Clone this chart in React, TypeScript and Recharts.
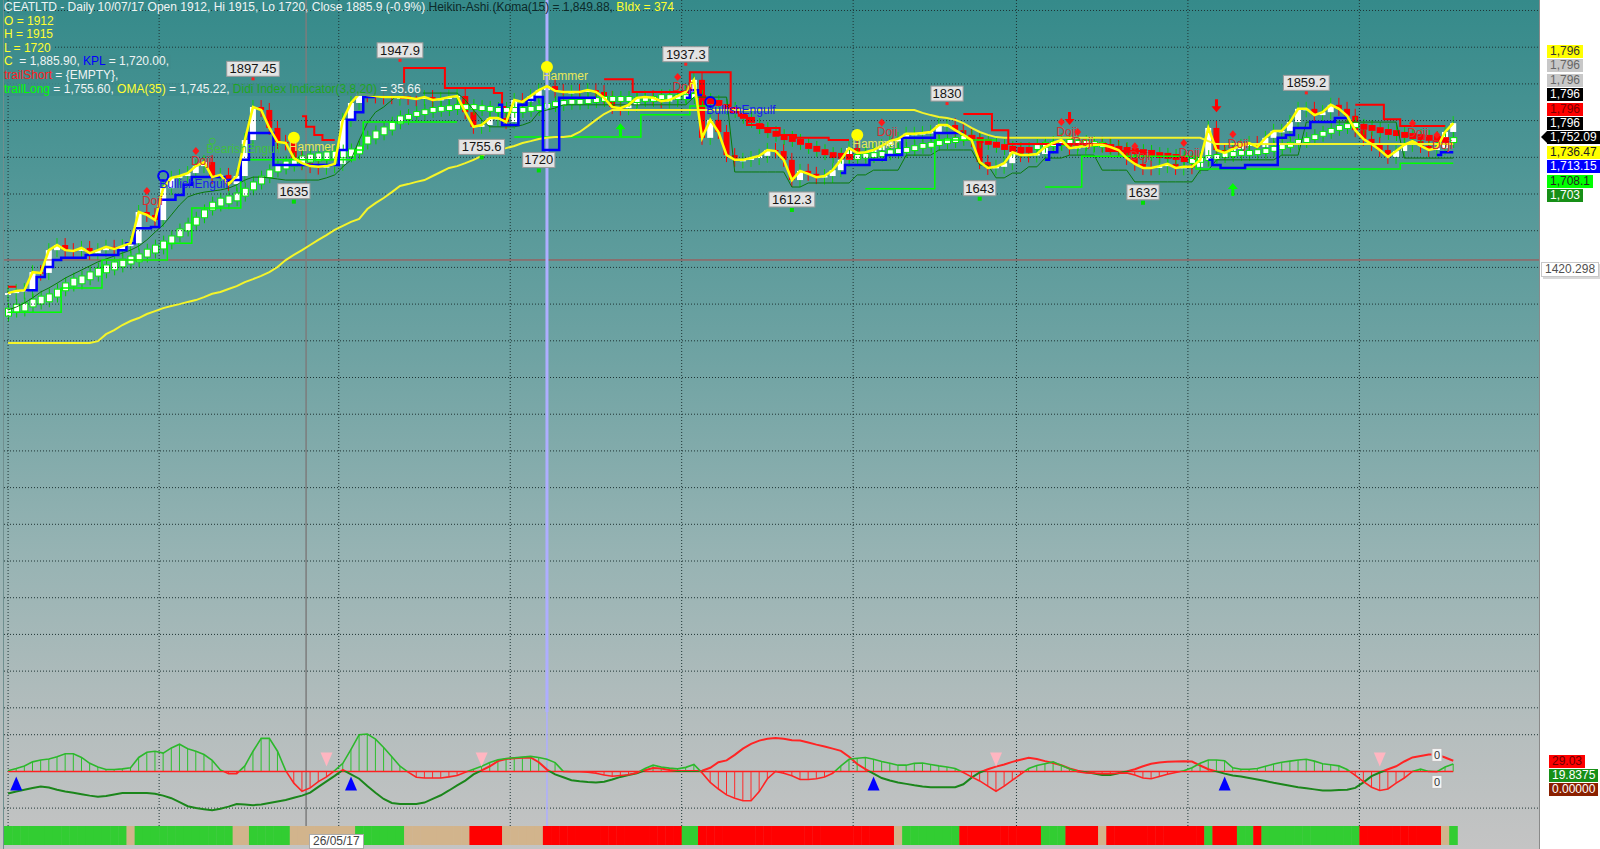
import React from 'react';
import { ComposedChart, BarChart, Bar, Line, XAxis, YAxis, ReferenceLine, ReferenceDot } from 'recharts';

// CEATLTD daily, Heikin-Ashi + Koma + trailing stops, Didi index below

const CLOSE = [
  1330, 1336, 1338, 1387, 1385, 1447, 1461, 1447, 1445, 1453,
  1439, 1447, 1456, 1450, 1458, 1466, 1551, 1543, 1529, 1616,
  1644, 1649, 1657, 1676, 1687, 1646, 1652, 1627, 1649, 1747,
  1837, 1829, 1780, 1742, 1739, 1698, 1684, 1676, 1674, 1676,
  1682, 1802, 1848, 1873, 1870, 1867, 1864, 1864, 1864, 1862,
  1859, 1864, 1856, 1859, 1864, 1867, 1823, 1783, 1788, 1807,
  1807, 1796, 1856, 1851, 1867, 1883, 1894, 1881, 1878, 1878,
  1878, 1883, 1878, 1862, 1837, 1834, 1843, 1862, 1864, 1862,
  1853, 1856, 1867, 1878, 1911, 1753, 1802, 1769, 1706, 1693,
  1693, 1698, 1704, 1720, 1717, 1693, 1638, 1663, 1655, 1646,
  1649, 1665, 1693, 1725, 1712, 1714, 1720, 1731, 1744, 1750,
  1764, 1764, 1766, 1769, 1788, 1788, 1774, 1761, 1747, 1687,
  1671, 1674, 1684, 1714, 1706, 1706, 1709, 1728, 1739, 1747,
  1725, 1728, 1731, 1734, 1734, 1728, 1720, 1698, 1682, 1671,
  1671, 1676, 1682, 1671, 1674, 1674, 1693, 1780, 1720, 1712,
  1723, 1731, 1739, 1728, 1753, 1772, 1772, 1796, 1832, 1832,
  1815, 1823, 1843, 1832, 1813, 1774, 1750, 1736, 1720, 1701,
  1717, 1734, 1744, 1731, 1720, 1725, 1769, 1793,
];

const HA_OPEN = [
  1325, 1330, 1336, 1338, 1387, 1385, 1447, 1461, 1447, 1445,
  1453, 1439, 1447, 1456, 1450, 1458, 1466, 1551, 1543, 1529,
  1616, 1644, 1649, 1657, 1676, 1687, 1646, 1652, 1627, 1649,
  1747, 1837, 1829, 1780, 1742, 1739, 1698, 1684, 1676, 1674,
  1676, 1682, 1802, 1848, 1873, 1870, 1867, 1868, 1860, 1866,
  1862, 1859, 1864, 1856, 1859, 1864, 1867, 1823, 1783, 1788,
  1804, 1807, 1796, 1856, 1851, 1867, 1883, 1894, 1881, 1875,
  1881, 1878, 1883, 1878, 1862, 1837, 1834, 1843, 1862, 1864,
  1862, 1853, 1856, 1867, 1878, 1911, 1753, 1802, 1769, 1706,
  1690, 1693, 1698, 1704, 1720, 1717, 1693, 1638, 1663, 1655,
  1646, 1649, 1665, 1693, 1725, 1712, 1714, 1720, 1731, 1744,
  1750, 1761, 1764, 1766, 1769, 1785, 1788, 1774, 1761, 1747,
  1687, 1671, 1674, 1684, 1714, 1709, 1706, 1709, 1728, 1739,
  1747, 1725, 1728, 1731, 1737, 1734, 1728, 1720, 1698, 1682,
  1674, 1671, 1676, 1682, 1671, 1677, 1674, 1693, 1780, 1720,
  1712, 1723, 1731, 1739, 1728, 1753, 1769, 1772, 1796, 1829,
  1832, 1815, 1823, 1843, 1832, 1813, 1774, 1750, 1736, 1720,
  1701, 1717, 1734, 1744, 1731, 1720, 1725, 1769,
];

const KOMA_OPEN = [
  1266, 1277, 1280, 1291, 1299, 1305, 1318, 1335, 1348, 1354,
  1365, 1375, 1384, 1392, 1400, 1408, 1414, 1427, 1438, 1449,
  1463, 1482, 1498, 1514, 1534, 1555, 1566, 1572, 1580, 1593,
  1610, 1626, 1643, 1659, 1667, 1675, 1681, 1686, 1689, 1692,
  1694, 1697, 1700, 1708, 1735, 1749, 1760, 1773, 1790, 1802,
  1810, 1815, 1821, 1824, 1826, 1829, 1829, 1829, 1826, 1824,
  1821, 1821, 1821, 1821, 1824, 1826, 1832, 1837, 1840, 1843,
  1843, 1845, 1848, 1851, 1851, 1851, 1851, 1848, 1851, 1851,
  1856, 1856, 1856, 1856, 1859, 1870, 1861, 1856, 1845, 1837,
  1821, 1810, 1793, 1782, 1772, 1763, 1758, 1750, 1739, 1731,
  1722, 1714, 1712, 1709, 1693, 1696, 1698, 1701, 1706, 1709,
  1712, 1717, 1723, 1726, 1731, 1736, 1739, 1745, 1761, 1755,
  1750, 1742, 1736, 1731, 1728, 1728, 1720, 1726, 1728, 1731,
  1734, 1731, 1731, 1728, 1726, 1736, 1731, 1728, 1725, 1722,
  1720, 1714, 1712, 1709, 1703, 1682, 1685, 1690, 1693, 1698,
  1701, 1704, 1704, 1706, 1709, 1715, 1720, 1726, 1734, 1739,
  1747, 1756, 1764, 1772, 1777, 1780, 1791, 1788, 1782, 1777,
  1774, 1769, 1766, 1763, 1761, 1758, 1755, 1739,
];

const KOMA_CLOSE = [
  1290, 1301, 1304, 1315, 1323, 1329, 1342, 1359, 1372, 1378,
  1389, 1399, 1408, 1416, 1424, 1432, 1438, 1451, 1462, 1473,
  1487, 1506, 1522, 1538, 1558, 1579, 1590, 1596, 1604, 1617,
  1634, 1650, 1667, 1683, 1691, 1699, 1705, 1710, 1713, 1716,
  1718, 1721, 1724, 1732, 1759, 1773, 1784, 1797, 1814, 1818,
  1826, 1831, 1837, 1840, 1842, 1845, 1845, 1845, 1842, 1840,
  1837, 1837, 1837, 1837, 1840, 1842, 1848, 1853, 1856, 1859,
  1859, 1861, 1864, 1867, 1867, 1867, 1867, 1864, 1867, 1867,
  1872, 1872, 1872, 1872, 1875, 1854, 1845, 1840, 1829, 1821,
  1805, 1794, 1777, 1766, 1756, 1747, 1742, 1734, 1723, 1715,
  1706, 1698, 1696, 1693, 1709, 1712, 1714, 1717, 1722, 1725,
  1728, 1733, 1739, 1742, 1747, 1752, 1755, 1761, 1745, 1739,
  1734, 1726, 1720, 1715, 1712, 1712, 1736, 1742, 1744, 1747,
  1750, 1747, 1747, 1744, 1742, 1720, 1715, 1712, 1709, 1706,
  1704, 1698, 1696, 1693, 1687, 1698, 1701, 1706, 1709, 1714,
  1717, 1720, 1720, 1722, 1725, 1731, 1736, 1742, 1750, 1755,
  1763, 1772, 1780, 1788, 1793, 1796, 1775, 1772, 1766, 1761,
  1758, 1753, 1750, 1747, 1745, 1742, 1739, 1755,
];

const OMA35 = [
  1194, 1194, 1194, 1194, 1194, 1194, 1194, 1194, 1194, 1194,
  1194, 1199, 1218, 1229, 1243, 1254, 1262, 1273, 1281, 1289,
  1295, 1300, 1306, 1311, 1319, 1328, 1333, 1341, 1349, 1360,
  1368, 1377, 1387, 1401, 1420, 1434, 1447, 1461, 1475, 1488,
  1502, 1513, 1524, 1532, 1559, 1575, 1589, 1605, 1622, 1627,
  1633, 1638, 1649, 1660, 1671, 1676, 1684, 1693, 1704, 1717,
  1720, 1725, 1731, 1739, 1744, 1750, 1753, 1755, 1755, 1758,
  1769, 1785, 1802, 1818, 1829, 1829, 1829, 1829, 1829, 1829,
  1829, 1829, 1829, 1829, 1829, 1829, 1829, 1829, 1829, 1829,
  1829, 1829, 1829, 1829, 1829, 1829, 1829, 1829, 1829, 1829,
  1829, 1829, 1829, 1829, 1829, 1829, 1829, 1829, 1829, 1829,
  1829, 1829, 1821, 1815, 1810, 1807, 1802, 1793, 1780, 1769,
  1761, 1755, 1753, 1753, 1753, 1753, 1753, 1753, 1753, 1753,
  1753, 1753, 1753, 1753, 1753, 1753, 1753, 1753, 1753, 1753,
  1753, 1753, 1753, 1753, 1753, 1753, 1753, 1744, 1736, 1736,
  1736, 1736, 1736, 1736, 1736, 1736, 1736, 1736, 1736, 1736,
  1736, 1736, 1736, 1736, 1736, 1736, 1736, 1736, 1736, 1736,
  1736, 1736, 1736, 1736, 1736, 1736, 1736, 1736,
];

const KPL = [
  null, null, 1338, 1338, 1374, 1401, 1420, 1426, 1426, 1426,
  1434, 1434, 1434, 1434, 1447, 1466, 1507, 1507, 1510, 1584,
  1584, 1597, 1625, 1646, 1646, 1646, 1646, 1638, 1638, 1693,
  1766, 1766, 1766, 1679, 1679, 1679, 1679, 1679, 1679, 1679,
  1679, 1720, 1802, 1823, 1864, 1864, null, null, null, null,
  null, null, null, null, null, null, null, null, null, null,
  1843, 1788, 1788, 1843, 1856, 1864, 1720, 1720, 1862, 1862,
  1862, 1862, 1862, null, null, null, null, null, null, null,
  null, null, null, 1862, 1883, 1870, null, null, null, null,
  null, null, null, null, null, null, null, null, null, null,
  null, null, 1657, 1679, 1679, 1679, 1693, 1693, 1706, 1706,
  1753, 1753, 1753, 1753, 1766, 1766, 1766, 1766, null, null,
  null, null, null, null, null, null, null, 1693, 1714, 1734,
  null, null, null, null, null, null, null, null, null, null,
  null, null, null, null, null, null, null, 1693, 1679, 1671,
  1671, 1671, 1679, 1679, 1679, 1679, 1753, 1761, 1780, 1780,
  1796, 1796, 1796, 1807, 1807, null, null, null, null, null,
  null, null, null, null, null, 1706, 1714, 1714,
];

const TRAIL_SHORT = [
  1347, 1347, null, null, null, null, null, null, null, null,
  null, null, null, null, null, null, null, null, null, null,
  null, null, null, null, null, null, null, null, null, null,
  null, null, null, null, null, null, 1812, 1783, 1761, 1747,
  1747, null, null, null, null, null, null, null, 1862, 1943,
  1943, 1943, 1943, 1943, 1889, 1889, 1889, 1889, 1889, 1889,
  1875, 1837, null, null, null, null, null, null, null, null,
  null, null, null, 1913, 1913, 1913, 1913, 1878, 1878, 1878,
  1878, 1878, 1878, 1878, 1932, 1932, 1932, 1932, 1932, 1823,
  1813, 1788, 1788, 1780, 1780, 1761, 1761, 1753, 1753, 1753,
  1753, 1747, 1747, 1747, null, null, null, null, null, null,
  null, null, null, null, null, null, null, 1818, 1818, 1818,
  1818, 1774, 1774, 1736, 1736, 1736, 1736, 1736, 1736, 1736,
  1736, 1736, 1736, 1736, 1736, 1717, 1717, 1717, 1717, 1717,
  null, null, null, null, null, null, null, null, null, null,
  null, null, null, null, null, null, null, null, null, null,
  null, null, null, null, null, 1843, 1843, 1843, 1843, 1804,
  1804, 1785, 1785, 1785, 1785, 1785, 1785, null,
];

const TRAIL_LONG = [
  1278, 1278, 1278, 1278, 1278, 1278, 1278, 1344, 1344, 1344,
  1344, 1344, 1420, 1420, 1420, 1420, 1420, 1420, 1420, 1420,
  1466, 1466, 1466, 1562, 1562, 1562, 1562, 1562, 1562, 1693,
  1693, 1693, 1693, 1693, 1693, 1693, 1693, 1693, 1693, 1693,
  1693, 1693, 1693, 1720, 1796, 1796, 1796, 1796, 1796, 1796,
  1796, 1796, 1796, 1796, 1796, 1796, null, null, null, null,
  null, null, 1755, 1755, 1755, 1755, 1755, 1755, 1755, 1755,
  1755, 1755, 1755, 1755, 1755, 1755, 1755, 1755, 1816, 1816,
  1816, 1816, 1816, 1816, 1840, 1840, 1840, null, null, null,
  null, null, null, null, null, null, null, null, null, null,
  null, null, null, null, null, 1614, 1614, 1614, 1614, 1614,
  1614, 1614, 1614, 1614, 1747, 1747, 1747, 1747, 1747, 1747,
  1747, 1747, null, null, null, null, null, 1619, 1619, 1619,
  1619, 1619, 1703, 1703, 1703, 1703, 1703, 1703, 1703, 1703,
  1703, 1703, 1703, 1703, 1703, 1703, 1668, 1668, 1668, 1668,
  1668, 1668, 1668, 1668, 1668, 1668, 1668, 1668, 1668, 1668,
  1668, 1668, 1668, 1668, 1668, 1668, 1668, 1668, 1668, 1668,
  1668, 1684, 1684, 1684, 1684, 1684, 1684, 1684,
];

const LOWER_TRAIL = [
  1284, 1292, 1303, 1317, 1333, 1344, 1357, 1371, 1382, 1393,
  1404, 1415, 1423, 1431, 1439, 1447, 1458, 1475, 1496, 1516,
  1543, 1570, 1592, 1600, 1605, 1608, 1611, 1616, 1625, 1638,
  1646, 1646, 1644, 1641, 1638, 1638, 1638, 1638, 1638, 1644,
  1652, 1674, 1693, 1747, 1793, 1823, 1837, 1856, 1875, 1875,
  1875, 1875, 1875, 1875, 1875, 1875, 1856, 1829, 1802, 1783,
  1783, 1783, 1783, 1788, 1796, 1823, 1829, 1834, 1843, 1843,
  1843, 1843, 1843, 1843, 1843, 1843, 1843, 1843, 1843, 1843,
  1843, 1843, 1843, 1843, 1864, 1864, 1864, 1864, 1864, 1660,
  1660, 1660, 1660, 1660, 1660, 1660, 1619, 1619, 1630, 1630,
  1630, 1630, 1630, 1630, 1652, 1652, 1665, 1665, 1665, 1665,
  1706, 1706, 1706, 1706, 1720, 1720, 1720, 1720, 1720, 1679,
  1679, 1644, 1644, 1657, 1657, 1674, 1674, 1698, 1698, 1698,
  1706, 1706, 1706, 1706, 1665, 1665, 1665, 1665, 1633, 1633,
  1633, 1633, 1633, 1633, 1633, 1633, 1665, 1665, 1693, 1693,
  1693, 1693, 1693, 1693, 1693, 1693, 1706, 1706, 1706, 1796,
  1796, 1796, 1796, 1796, 1796, 1796, 1796, 1796, 1796, 1796,
  1796, 1698, 1698, 1698, 1698, 1698, 1698, 1698,
];

const DIDI_FAST = [
  2, 8, 15, 26, 31, 34, 40, 48, 48, 38,
  22, 12, 5, 5, 7, 10, 38, 52, 55, 50,
  64, 74, 62, 55, 46, 30, 4, -6, -6, 15,
  55, 90, 90, 55, 2, -32, -54, -45, -28, -15,
  2, 22, 60, 100, 102, 88, 65, 40, 14, -2,
  -16, -18, -18, -18, -15, -11, -2, 6, 14, 24,
  32, 35, 37, 39, 41, 38, 33, 24, 0, -1,
  -1, -2, -5, -10, -13, -11, -9, -4, 8, 17,
  12, 9, 7, 11, 19, -4, -30, -48, -64, -73,
  -80, -80, -55, -20, 0, -5, -12, -22, -22, -20,
  -15, -5, 15, 33, 36, 38, 33, 27, 22, 17,
  17, 22, 23, 19, 15, 12, 8, -3, -15, -26,
  -40, -54, -40, -24, -8, 8, 16, 21, 26, 16,
  7, -1, -4, -5, -6, -6, -5, -4, -10, -18,
  -20, -14, -8, -3, 2, 10, 22, 31, 31, 29,
  10, 6, 6, 8, 14, 20, 25, 28, 31, 33,
  28, 21, 18, 15, 5, -11, -28, -43, -52, -48,
  -32, -18, 0, 6, 0, -1, 12, 20,
];

const DIDI_SLOW = [
  -60, -55, -50, -45, -41, -44, -50, -55, -58, -62,
  -66, -69, -67, -63, -59, -59, -59, -59, -61, -66,
  -73, -84, -95, -100, -103, -106, -102, -96, -89, -90,
  -92, -90, -86, -82, -78, -72, -66, -58, -42, -27,
  -12, 4, -8, -20, -40, -58, -75, -86, -89, -89,
  -89, -85, -75, -65, -52, -38, -25, -8, 3, 14,
  28, 34, 36, 37, 38, 25, 5, -8, -16, -24,
  -27, -29, -30, -28, -22, -15, -10, -5, 3, 9,
  8, 4, 1, 1, 1, 2, 10, 25, 30, 45,
  62, 75, 84, 89, 91, 89, 85, 84, 79, 73,
  68, 62, 56, 40, 20, 6, -6, -18, -25, -30,
  -34, -38, -41, -43, -43, -43, -43, -35, -17, -3,
  6, 13, 19, 26, 32, 37, 34, 28, 23, 17,
  8, 2, -2, -6, -10, -10, -5, 0, 6, 14,
  21, 24, 26, 27, 28, 27, 16, 6, 0, -6,
  -11, -14, -18, -22, -26, -31, -35, -39, -43, -46,
  -49, -52, -52, -51, -50, -45, -30, -13, -3, 6,
  14, 27, 38, 42, 46, 46, 38, 29,
];

// trend ribbon: g = up, t = neutral, r = down
const RIBBON = (
  'ggggggggggggggg' + 't' + 'gggggggggggg' + 'tt' + 'ggggg' + 'tttttttt' +
  'gggggg' + 'tttttttt' + 'rrrr' + 'ttttt' + 'rrrrrrrrrrrrrrrrr' + 'gg' +
  'rrrrrrrrrrrrrrrrrrrrrrrr' + 't' + 'ggggggg' + 'rrrrrrrrrr' + 'ggg' + 'rrrr' +
  't' + 'rrrrrrrrrrrr' + 'g' + 'rrr' + 'gg' + 'r' + 'gggggggggggg' + 'rrrrrrrrrr' + 't' + 'g'
).split('');

const PRICE_GRID = [2100, 2000, 1900, 1800, 1700, 1600, 1500, 1400, 1300, 1200, 1100, 1000, 900, 800, 700, 600, 500, 400, 300, 200];
const MONTH_STARTS = [19, 41, 62, 83, 104, 124, 145, 166];
const LEVEL = 1420.298;
const CURSOR_BAR = 37;
const SELECTED_BAR = 66;

const PEAKS = [
  { i: 30, v: 1897.45, hi: true }, { i: 48, v: 1947.9, hi: true }, { i: 83, v: 1937.3, hi: true },
  { i: 115, v: 1830, hi: true }, { i: 159, v: 1859.2, hi: true },
  { i: 35, v: 1635, hi: false }, { i: 58, v: 1755.6, hi: false }, { i: 65, v: 1720, hi: false },
  { i: 96, v: 1612.3, hi: false }, { i: 119, v: 1643, hi: false }, { i: 139, v: 1632, hi: false },
];

const PATTERNS = [
  { i: 17, v: 1608, kind: 'Doji' }, { i: 23, v: 1717, kind: 'Doji' },
  { i: 19, v: 1649, kind: 'BullishEngulf' }, { i: 25, v: 1744, kind: 'BearishEngulf' },
  { i: 35, v: 1753, kind: 'Hammer' }, { i: 66, v: 1946, kind: 'Hammer' },
  { i: 82, v: 1919, kind: 'Doji' }, { i: 86, v: 1851, kind: 'BullishEngulf' },
  { i: 104, v: 1761, kind: 'Hammer' }, { i: 107, v: 1795, kind: 'Doji' },
  { i: 129, v: 1796, kind: 'Doji' }, { i: 131, v: 1769, kind: 'Doji' },
  { i: 138, v: 1730, kind: 'Doji' }, { i: 144, v: 1739, kind: 'Doji' },
  { i: 150, v: 1763, kind: 'Doji' }, { i: 172, v: 1793, kind: 'Doji' },
  { i: 175, v: 1761, kind: 'Doji' },
];

const SELL_ARROWS = [{ i: 130, v: 1788 }, { i: 148, v: 1823 }];
const BUY_ARROWS = [{ i: 75, v: 1793 }, { i: 150, v: 1630 }];
const DIDI_BUY = [1, 42, 106, 149];
const DIDI_SELL = [39, 58, 121, 168];

const AXIS_VALUES = ['1,796', '1,796', '1,796', '1,796', '1,796', '1,796', '1,752.09', '1,736.47', '1,713.15', '1,708.1', '1,703'];
const AXIS_COLORS = [
  ['#ffff00', '#333'], ['#c8c8c8', '#666'], ['#c8c8c8', '#666'], ['#000', '#fff'], ['#ff0000', '#7a0000'],
  ['#000', '#fff'], ['#000', '#fff'], ['#ffff00', '#222'], ['#0000ff', '#fff'], ['#00ff00', '#222'], ['#178f17', '#fff'],
];
const DIDI_VALUES = ['29.03', '19.8375', '0.00000'];
const DIDI_COLORS = [['#ff0000', '#6a0000'], ['#178f17', '#fff'], ['#8a2000', '#fff']];

const SLOTS = 188;
const rows = Array.from({ length: SLOTS }, (_, i) => ({
  i,
  close: CLOSE[i] ?? null,
  haOpen: HA_OPEN[i] ?? null,
  kOpen: KOMA_OPEN[i] ?? null,
  kClose: KOMA_CLOSE[i] ?? null,
  oma: OMA35[i] ?? null,
  kpl: KPL[i] ?? null,
  tShort: TRAIL_SHORT[i] ?? null,
  tLong: TRAIL_LONG[i] ?? null,
  lower: LOWER_TRAIL[i] ?? null,
  fast: DIDI_FAST[i] ?? null,
  slow: DIDI_SLOW[i] ?? null,
  rib: RIBBON[i] ?? null,
}));

const FONT = '"Liberation Sans", Arial, sans-serif';
const PLOT_RIGHT = 1539;
const PRICE_H = 712;
const PRICE_MIN = 188.6, PRICE_MAX = 2128.6;
const OSC_TOP = 712, OSC_H = 114;
const OSC_MIN = -148.8, OSC_MAX = 161.9;
const RIB_TOP = 826, RIB_H = 19;
const MARGIN = { top: 0, right: 0, bottom: 0, left: 4 };
const GRID = '#1f3434';

const HaCandle = (p: any) => {
  const { x, y, width, height, payload } = p;
  if (x == null || payload.close == null) return null;
  const up = payload.close >= payload.haOpen;
  const top = height < 0 ? y + height : y;
  const h = Math.max(Math.abs(height), 1.5);
  const cx = x + width / 2;
  return (
    <g>
      <line x1={cx} x2={cx} y1={top - 7} y2={top + h + 7} stroke={up ? '#10d010' : '#ff0000'} strokeWidth={1} />
      <rect x={x} y={top} width={width} height={h} fill={up ? '#ffffff' : '#ff0000'} />
    </g>
  );
};

const KomaCandle = (p: any) => {
  const { x, y, width, height, payload } = p;
  if (x == null || payload.kClose == null) return null;
  const up = payload.kClose >= payload.kOpen;
  const top = height < 0 ? y + height : y;
  const h = Math.max(Math.abs(height), 4);
  const cx = x + width / 2;
  return (
    <g>
      <line x1={cx} x2={cx} y1={top - 5} y2={top} stroke="#00d000" strokeWidth={1} />
      <line x1={cx} x2={cx} y1={top + h} y2={top + h + 5} stroke="#00d000" strokeWidth={1} />
      {up
        ? <rect x={x + 0.5} y={top + 0.5} width={width - 1} height={h - 1} fill="#ffffff" stroke="#00ee00" strokeWidth={1} />
        : <rect x={x} y={top} width={width} height={h} fill="#ff0000" />}
    </g>
  );
};

const Hatch = (p: any) => {
  const { x, y, width, height, payload } = p;
  if (x == null || payload.fast == null) return null;
  const cx = x + width / 2;
  const top = height < 0 ? y + height : y;
  return <line x1={cx} x2={cx} y1={top} y2={top + Math.abs(height)} stroke={payload.fast >= 0 ? '#2ec02e' : '#ff2a2a'} strokeWidth={1} />;
};

const RibbonCell = (p: any) => {
  const { x, y, width, height, payload } = p;
  if (x == null || !payload.rib) return null;
  const fill = payload.rib === 'g' ? '#32cd32' : payload.rib === 'r' ? '#ff0000' : '#d2b48c';
  return <rect x={x} y={y} width={width + 0.6} height={height} fill={fill} />;
};

const PeakLabel = ({ cx, cy, v, hi }: any) => {
  const text = String(v);
  const w = text.length * 6.8 + 5;
  const bh = 15;
  const mid = hi ? cy - 16 : cy + 10;
  const top = mid - bh / 2;
  return (
    <g>
      <rect x={cx - w / 2} y={top} width={w} height={bh} fill="#e4e4e4" stroke="#9a9a9a" strokeWidth={1} />
      <text x={cx} y={mid + 4.5} textAnchor="middle" fontSize={13} fontFamily={FONT} fill="#151515">{text}</text>
      {hi
        ? <rect x={cx - 1.5} y={top + bh + 1} width={3} height={3} fill="#ff2020" />
        : <rect x={cx - 2} y={top + bh + 1} width={4} height={4} fill="#00e000" />}
    </g>
  );
};

const PatternMark = ({ cx, cy, kind }: any) => {
  const t = { fontSize: 12, fontFamily: FONT };
  if (kind === 'Doji') {
    return (
      <g>
        <path d={`M${cx},${cy - 4} L${cx + 3.5},${cy} L${cx},${cy + 4} L${cx - 3.5},${cy} Z`} fill="#ff1a1a" />
        <text x={cx - 5} y={cy + 14} fill="#d83030" {...t}>Doji</text>
      </g>
    );
  }
  if (kind === 'Hammer') {
    return (
      <g>
        <circle cx={cx} cy={cy} r={6} fill="#ffff00" />
        <text x={cx - 5} y={cy + 13} fill="#e8e858" {...t}>Hammer</text>
      </g>
    );
  }
  if (kind === 'BullishEngulf') {
    return (
      <g>
        <circle cx={cx} cy={cy} r={5} fill="none" stroke="#0000ff" strokeWidth={2} />
        <text x={cx - 4} y={cy + 12} fill="#1a1aee" {...t}>BullishEngulf</text>
      </g>
    );
  }
  return (
    <g>
      <circle cx={cx} cy={cy} r={3} fill="none" stroke="#40c040" strokeWidth={1} />
      <text x={cx - 6} y={cy + 12} fill="#40c040" {...t}>BearishEngulf</text>
    </g>
  );
};

const Arrow = ({ cx, cy, down, color }: any) => {
  const s = down ? -1 : 1;
  return (
    <path
      d={`M${cx},${cy} L${cx + 5},${cy + 6 * s} L${cx + 1.5},${cy + 6 * s} L${cx + 1.5},${cy + 13 * s} L${cx - 1.5},${cy + 13 * s} L${cx - 1.5},${cy + 6 * s} L${cx - 5},${cy + 6 * s} Z`}
      fill={color}
    />
  );
};

const Tri = ({ cx, cy, up }: any) => up
  ? <path d={`M${cx},${cy + 5} L${cx + 6},${cy + 19} L${cx - 6},${cy + 19} Z`} fill="#0000ff" />
  : <path d={`M${cx - 6},${cy - 19} L${cx + 6},${cy - 19} L${cx},${cy - 5} Z`} fill="#ffb6c1" />;

const ZeroTags = ({ cx, cy }: any) => (
  <g fontFamily={FONT} fontSize={11}>
    <rect x={cx - 5} y={cy - 23} width={10} height={13} fill="#f4f4f4" stroke="#bbb" />
    <text x={cx} y={cy - 12.5} textAnchor="middle" fill="#333">0</text>
    <rect x={cx - 5} y={cy + 4} width={10} height={13} fill="#f4f4f4" stroke="#bbb" />
    <text x={cx} y={cy + 14.5} textAnchor="middle" fill="#333">0</text>
  </g>
);

function PricePane() {
  return (
    <ComposedChart width={PLOT_RIGHT} height={PRICE_H} data={rows} margin={MARGIN}>
      <XAxis dataKey="i" hide />
      <XAxis dataKey="i" hide xAxisId="koma" />
      <YAxis hide domain={[PRICE_MIN, PRICE_MAX]} allowDataOverflow />
      {PRICE_GRID.map(v => <ReferenceLine key={v} y={v} stroke={GRID} strokeDasharray="1 2" />)}
      <ReferenceLine x={0} stroke={GRID} strokeDasharray="1 2" />
      {MONTH_STARTS.map(m => <ReferenceLine key={m} x={m} position="start" stroke={GRID} strokeDasharray="1 2" />)}
      <ReferenceLine y={LEVEL} stroke="#b04848" strokeWidth={1} />
      <ReferenceLine x={SELECTED_BAR} stroke="#aeaeff" strokeWidth={3} />
      <ReferenceLine x={CURSOR_BAR} position="start" stroke="#7c7c7c" strokeWidth={1.5} />
      <Line dataKey="lower" stroke="#0a7a0a" strokeWidth={1} dot={false} isAnimationActive={false} />
      <Line dataKey="tLong" type="step" stroke="#00ff00" strokeWidth={1.5} dot={false} isAnimationActive={false} />
      <Line dataKey="oma" stroke="#f4f42a" strokeWidth={2} dot={false} isAnimationActive={false} />
      <Bar dataKey={(d: any) => (d.close == null ? null : [Math.min(d.haOpen, d.close), Math.max(d.haOpen, d.close)])}
        barSize={6} shape={HaCandle} isAnimationActive={false} />
      <Bar xAxisId="koma" dataKey={(d: any) => (d.kClose == null ? null : [Math.min(d.kOpen, d.kClose), Math.max(d.kOpen, d.kClose)])}
        barSize={7} shape={KomaCandle} isAnimationActive={false} />
      <Line dataKey="tShort" type="step" stroke="#ff0000" strokeWidth={2} dot={false} isAnimationActive={false} />
      <Line dataKey="kpl" type="step" stroke="#0000ff" strokeWidth={2.5} dot={false} isAnimationActive={false} />
      <Line dataKey="close" stroke="#ffff00" strokeWidth={2.5} dot={false} isAnimationActive={false} />
      {PATTERNS.map((a, k) => (
        <ReferenceDot key={'p' + k} x={a.i} y={a.v} r={0} shape={(props: any) => <PatternMark {...props} kind={a.kind} />} />
      ))}
      {SELL_ARROWS.map((a, k) => (
        <ReferenceDot key={'s' + k} x={a.i} y={a.v} r={0} shape={(props: any) => <Arrow {...props} down color="#ff0000" />} />
      ))}
      {BUY_ARROWS.map((a, k) => (
        <ReferenceDot key={'b' + k} x={a.i} y={a.v} r={0} shape={(props: any) => <Arrow {...props} color="#00ff00" />} />
      ))}
      {PEAKS.map((a, k) => (
        <ReferenceDot key={'k' + k} x={a.i} y={a.v} r={0} shape={(props: any) => <PeakLabel {...props} v={a.v} hi={a.hi} />} />
      ))}
    </ComposedChart>
  );
}

const ZERO_FRAC = OSC_MAX / (OSC_MAX - OSC_MIN);

function DidiPane() {
  return (
    <ComposedChart width={PLOT_RIGHT} height={OSC_H} data={rows} margin={MARGIN}>
      <defs>
        <linearGradient id="fastGrad" gradientUnits="userSpaceOnUse" x1="0" y1="0" x2="0" y2={OSC_H}>
          <stop offset={0} stopColor="#2cb82c" />
          <stop offset={ZERO_FRAC} stopColor="#2cb82c" />
          <stop offset={ZERO_FRAC} stopColor="#ff2424" />
          <stop offset={1} stopColor="#ff2424" />
        </linearGradient>
        <linearGradient id="slowGrad" gradientUnits="userSpaceOnUse" x1="0" y1="0" x2="0" y2={OSC_H}>
          <stop offset={0} stopColor="#ff2424" />
          <stop offset={ZERO_FRAC} stopColor="#ff2424" />
          <stop offset={ZERO_FRAC} stopColor="#1b861b" />
          <stop offset={1} stopColor="#1b861b" />
        </linearGradient>
      </defs>
      <XAxis dataKey="i" hide />
      <YAxis hide domain={[OSC_MIN, OSC_MAX]} allowDataOverflow />
      <ReferenceLine y={100} stroke={GRID} strokeDasharray="1 2" />
      <ReferenceLine y={-100} stroke={GRID} strokeDasharray="1 2" />
      <ReferenceLine x={0} stroke={GRID} strokeDasharray="1 2" />
      {MONTH_STARTS.map(m => <ReferenceLine key={m} x={m} position="start" stroke={GRID} strokeDasharray="1 2" />)}
      <ReferenceLine x={SELECTED_BAR} stroke="#aeaeff" strokeWidth={1.5} />
      <ReferenceLine x={CURSOR_BAR} position="start" stroke="#7c7c7c" strokeWidth={1.5} />
      <Bar dataKey={(d: any) => (d.fast == null ? null : [Math.min(0, d.fast), Math.max(0, d.fast)])}
        barSize={2} shape={Hatch} isAnimationActive={false} />
      <Line dataKey={(d: any) => (d.fast == null ? null : 0)} stroke="#ff2020" strokeWidth={1.5} dot={false} isAnimationActive={false} />
      <Line dataKey="slow" stroke="url(#slowGrad)" strokeWidth={2} dot={false} isAnimationActive={false} />
      <Line dataKey="fast" stroke="url(#fastGrad)" strokeWidth={1.6} dot={false} isAnimationActive={false} />
      {DIDI_BUY.map(i => <ReferenceDot key={'u' + i} x={i} y={0} r={0} shape={(props: any) => <Tri {...props} up />} />)}
      {DIDI_SELL.map(i => <ReferenceDot key={'d' + i} x={i} y={0} r={0} shape={(props: any) => <Tri {...props} />} />)}
      <ReferenceDot x={175} y={0} r={0} shape={(props: any) => <ZeroTags {...props} />} />
    </ComposedChart>
  );
}

function RibbonPane() {
  return (
    <BarChart width={PLOT_RIGHT} height={RIB_H} data={rows} margin={MARGIN} barCategoryGap={0}>
      <XAxis dataKey="i" hide />
      <YAxis hide domain={[0, 1]} />
      <Bar dataKey={(d: any) => (d.rib ? 1 : null)} shape={RibbonCell} isAnimationActive={false} />
    </BarChart>
  );
}

const badge = (bg: string, color: string): React.CSSProperties => ({
  position: 'absolute', height: 13, lineHeight: '13px', padding: '0 3px', background: bg, color,
  fontSize: 12, fontFamily: FONT, whiteSpace: 'nowrap',
});

const legendLine: React.CSSProperties = { display: 'inline-block', background: 'rgba(62,140,140,0.85)', paddingRight: 2 };

function Legend() {
  const W = '#eef4f4';
  return (
    <div style={{ position: 'absolute', left: 4, top: 1, fontSize: 12, fontFamily: FONT, lineHeight: '13.6px', whiteSpace: 'pre' }}>
      <div>
        <span style={{ color: W }}>CEATLTD - Daily 10/07/17 Open 1912, Hi 1915, Lo 1720, Close 1885.9 (-0.9%) </span>
        <span style={{ color: '#0c2a2a' }}>Heikin-Ashi (Koma(15) = 1,849.88, </span>
        <span style={{ color: '#ffff30' }}>BIdx = 374</span>
      </div>
      <div><span style={{ ...legendLine, color: '#ffff30' }}>O = 1912</span></div>
      <div><span style={{ ...legendLine, color: '#ffff30' }}>H = 1915</span></div>
      <div><span style={{ ...legendLine, color: '#ffff30' }}>L = 1720</span></div>
      <div>
        <span style={legendLine}>
          <span style={{ color: '#ffff30' }}>C </span><span style={{ color: W }}> = 1,885.90, </span>
          <span style={{ color: '#0000ff' }}>KPL</span><span style={{ color: W }}> = 1,720.00,</span>
        </span>
      </div>
      <div>
        <span style={legendLine}>
          <span style={{ color: '#ff2020' }}>trailShort</span><span style={{ color: W }}> = {'{EMPTY}'},</span>
        </span>
      </div>
      <div>
        <span style={legendLine}>
          <span style={{ color: '#00ff00' }}>trailLong</span><span style={{ color: W }}> = 1,755.60, </span>
          <span style={{ color: '#ffff30' }}>OMA(35)</span><span style={{ color: W }}> = 1,745.22, </span>
          <span style={{ color: '#1fa51f' }}>Didi Index Indicator(3,8,20)</span><span style={{ color: W }}> = 35.66</span>
        </span>
      </div>
    </div>
  );
}

export default function App() {
  return (
    <div style={{ position: 'absolute', left: 0, top: 0, width: 1600, height: 849, overflow: 'hidden', background: '#ffffff', fontFamily: FONT }}>
      <div style={{
        position: 'absolute', left: 0, top: 0, width: PLOT_RIGHT, height: 849,
        background: 'linear-gradient(to bottom, #358a8a 0%, #4f9696 20%, #6fa3a3 42%, #96b3b3 65%, #b4bdbd 85%, #c4c4c4 100%)',
      }} />
      <div style={{ position: 'absolute', left: 3, top: 0, width: 1, height: 849, background: '#6f8f8f' }} />
      <div style={{ position: 'absolute', left: 0, top: 0 }}><PricePane /></div>
      <div style={{ position: 'absolute', left: 0, top: OSC_TOP }}><DidiPane /></div>
      <div style={{ position: 'absolute', left: 0, top: RIB_TOP }}><RibbonPane /></div>
      <div style={{ position: 'absolute', left: PLOT_RIGHT, top: 0, width: 1, height: 849, background: '#8a8a8a' }} />
      <Legend />
      {AXIS_VALUES.map((t, k) => (
        <div key={k} style={{ ...badge(AXIS_COLORS[k][0], AXIS_COLORS[k][1]), left: 1547, top: 45 + k * 14.4 }}>{t}</div>
      ))}
      <div style={{ position: 'absolute', left: 1541, top: 45 + 6 * 14.4, width: 0, height: 0, borderTop: '6.5px solid transparent', borderBottom: '6.5px solid transparent', borderRight: '6px solid #000' }} />
      <div style={{ ...badge('#ffffff', '#505050'), left: 1541, top: 262, border: '1px solid #c8c8c8', boxShadow: '2px 2px 0 #d8d8d8' }}>{LEVEL}</div>
      {DIDI_VALUES.map((t, k) => (
        <div key={k} style={{ ...badge(DIDI_COLORS[k][0], DIDI_COLORS[k][1]), left: 1549, top: 755 + k * 14 }}>{t}</div>
      ))}
      <div style={{ ...badge('#ffffff', '#444'), left: 309, top: 834, border: '1px solid #aaa' }}>26/05/17</div>
    </div>
  );
}
